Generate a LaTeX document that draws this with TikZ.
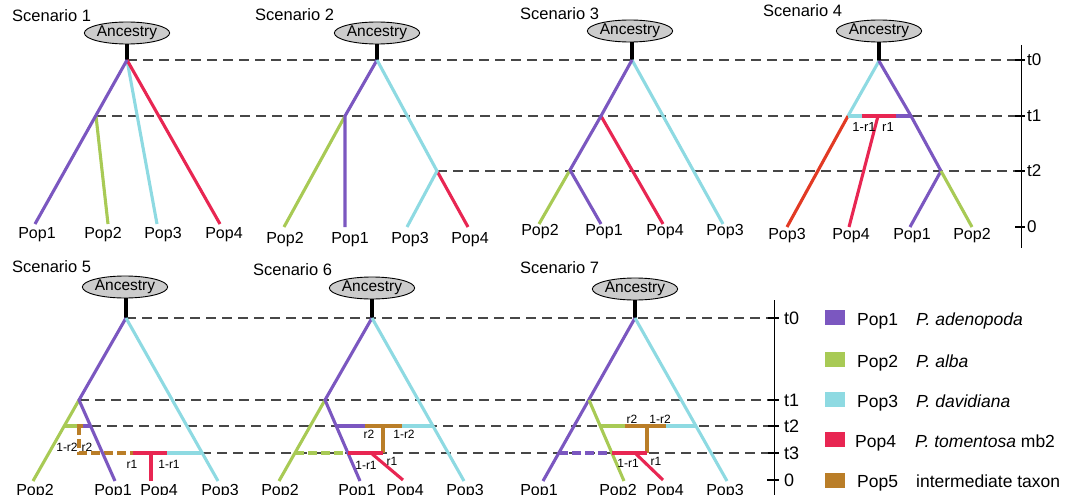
\documentclass[tikz,border=0pt]{standalone}
\usepackage{fontspec}
\setmainfont{Liberation Sans}
\usetikzlibrary{shapes.geometric}
\definecolor{cpur}{RGB}{123,87,192}
\definecolor{cgrn}{RGB}{168,202,85}
\definecolor{ccyn}{RGB}{142,218,226}
\definecolor{cred}{RGB}{232,38,82}
\definecolor{cora}{RGB}{226,58,36}
\definecolor{cbrn}{RGB}{186,126,40}
\begin{document}
\begin{tikzpicture}[x=1pt,y=-1pt,
  br/.style={line width=3.1pt},
  brd/.style={line width=3.1pt,dash pattern=on 9pt off 4pt},
  tl/.style={dash pattern=on 10pt off 6pt,line width=1.1pt,black!72},
  anc/.style={ellipse,draw=black,line width=0.9pt,fill=black!20,minimum width=63pt,minimum height=22pt,inner sep=0pt,font=\fontsize{15.5}{15.5}\selectfont},
  pop/.style={anchor=base,inner sep=0pt,font=\fontsize{16}{16}\selectfont},
  ttl/.style={anchor=base west,inner sep=0pt,font=\fontsize{16.5}{16.5}\selectfont},
  sm/.style={inner sep=0pt,font=\fontsize{12}{12}\selectfont},
  tmk/.style={line width=2.4pt},
  tlab/.style={anchor=west,inner sep=0pt,font=\fontsize{17}{17}\selectfont},
  leg/.style={anchor=base west,inner sep=0pt,font=\fontsize{17.5}{17.5}\selectfont},
  sq/.style={minimum width=20pt,minimum height=15pt,inner sep=0pt}
]
\useasboundingbox (0,0) rectangle (1085,495);

%================ TOP ROW =================
\coordinate (axT) at (1021,45);
\coordinate (axB) at (1021,248);
\draw[line width=0.9pt] (axT) -- (axB);
\foreach \y/\t in {60/t0,116/t1,171/t2,227/0}{
  \draw[tmk] (1015,\y) -- (1025,\y);
  \node[tlab] at (1027,\y) {\t};
}
\coordinate (e0) at (1015,60);
\coordinate (e1) at (1015,116);
\coordinate (e2) at (1015,171);

\coordinate (r1) at (127,60);
\coordinate (r2) at (377,60);
\coordinate (r3) at (632,60);
\coordinate (r4) at (879,61);

\coordinate (s1a) at (96,116);
\coordinate (s2m) at (437,171);
\draw[tl] (r1) -- (e0);
\draw[tl] (s1a) -- (e1);
\draw[tl] (s2m) -- (e2);

% Scenario 1
\node[ttl] (T1) at (12,22) {Scenario 1};
\node[anc] (A1) at (127,33) {Ancestry};
\draw[br,black] (r1) -- (r1 |- A1.south);
\coordinate (s1p1) at (35,224);
\coordinate (s1p2) at (108,224);
\coordinate (s1p3) at (157,224);
\coordinate (s1p4) at (220,224);
\draw[br,cgrn] (s1a) -- (s1p2);
\draw[br,ccyn] (r1) -- (s1p3);
\draw[br,cred] (r1) -- (s1p4);
\draw[br,cpur] (r1) -- (s1p1);
\node[pop] (L11) at (37,238) {Pop1};
\node[pop] (L12) at (103,238) {Pop2};
\node[pop] (L13) at (163,238) {Pop3};
\node[pop] (L14) at (224,238) {Pop4};

% Scenario 2
\node[ttl] (T2) at (255,21) {Scenario 2};
\node[anc] (A2) at (377,33) {Ancestry};
\draw[br,black] (r2) -- (r2 |- A2.south);
\coordinate (s2n) at (345,116);
\coordinate (s2p1) at (345,227);
\coordinate (s2p2) at (284,227);
\coordinate (s2p3) at (407,227);
\coordinate (s2p4) at (468,227);
\draw[br,cgrn] (s2n) -- (s2p2);
\draw[br,cpur] (r2) -- (s2n) -- (s2p1);
\draw[br,cred] (s2m) -- (s2p4);
\draw[br,ccyn] (r2) -- (s2m) -- (s2p3);
\node[pop] (L22) at (285,243) {Pop2};
\node[pop] (L21) at (350,243) {Pop1};
\node[pop] (L23) at (410,243) {Pop3};
\node[pop] (L24) at (470,243) {Pop4};

% Scenario 3
\node[ttl] (T3) at (520,20) {Scenario 3};
\node[anc] (A3) at (630,31) {Ancestry};
\draw[br,black] (r3) -- (r3 |- A3.south);
\coordinate (s3a) at (601,116);
\coordinate (s3b) at (570,170);
\coordinate (s3p1) at (601,224);
\coordinate (s3p2) at (539,224);
\coordinate (s3p4) at (663,224);
\coordinate (s3p3) at (723,224);
\draw[br,ccyn] (r3) -- (s3p3);
\draw[br,cred] (s3a) -- (s3p4);
\draw[br,cgrn] (s3b) -- (s3p2);
\draw[br,cpur] (r3) -- (s3a) -- (s3b) -- (s3p1);
\node[pop] (L32) at (540,235) {Pop2};
\node[pop] (L31) at (604,235) {Pop1};
\node[pop] (L34) at (665,235) {Pop4};
\node[pop] (L33) at (725,235) {Pop3};

% Scenario 4
\node[ttl] (T4) at (763,17) {Scenario 4};
\node[anc] (A4) at (879,31) {Ancestry};
\draw[br,black] (r4) -- (r4 |- A4.south);
\coordinate (s4c) at (848,116);
\coordinate (s4d) at (911,116);
\coordinate (s4e) at (941,171);
\coordinate (s4m) at (878,116);
\coordinate (s4h1) at (862,116);
\coordinate (s4h2) at (896,116);
\coordinate (s4p3) at (787,227);
\coordinate (s4p4) at (849,227);
\coordinate (s4p1) at (910,227);
\coordinate (s4p2) at (972,227);
\draw[br,ccyn] (r4) -- (s4c);
\draw[br,cpur] (r4) -- (s4d) -- (s4e) -- (s4p1);
\draw[br,cgrn] (s4e) -- (s4p2);
\draw[br,cora] (s4c) -- (s4p3);
\draw[br,cred] (s4m) -- (s4p4);
\draw[br,ccyn] (s4c) -- (s4h1);
\draw[br,cred] (s4h1) -- (s4h2);
\draw[br,cpur] (s4h2) -- (s4d);
\node[sm,font=\fontsize{13}{13}\selectfont] (l4a) at (864,127) {1-r1};
\node[sm,font=\fontsize{13}{13}\selectfont] (l4b) at (888,127) {r1};
\node[pop] (L43) at (787,239) {Pop3};
\node[pop] (L44) at (851,239) {Pop4};
\node[pop] (L41) at (912,239) {Pop1};
\node[pop] (L42) at (972,239) {Pop2};

%================ BOTTOM ROW =================
\coordinate (bxT) at (774,300);
\coordinate (bxB) at (774,495);
\draw[line width=0.9pt] (bxT) -- (bxB);
\foreach \y/\t in {318/t0,400/t1,426/t2,453/t3,480/0}{
  \draw[tmk] (767,\y) -- (779,\y);
  \node[tlab,font=\fontsize{18}{18}\selectfont] at (784,\y) {\t};
}
\coordinate (f0) at (768,318);
\coordinate (f1) at (768,400);
\coordinate (f2) at (768,426);
\coordinate (f3) at (768,453);

\coordinate (r5) at (126,318);
\coordinate (r6) at (372,318);
\coordinate (r7) at (635,318);
\coordinate (a5) at (79,400);
\coordinate (q5) at (91,426);
\coordinate (c5) at (201,453);
\draw[tl] (r5) -- (f0);
\draw[tl] (a5) -- (f1);
\draw[tl] (q5) -- (f2);
\draw[tl] (c5) -- (f3);

% Scenario 5
\node[ttl] (T5) at (12,272) {Scenario 5};
\node[anc] (A5) at (125,287) {Ancestry};
\draw[br,black] (r5) -- (r5 |- A5.south);
\coordinate (s5b1) at (79,426);
\coordinate (s5b2) at (79,453);
\coordinate (s5b3) at (133,453);
\coordinate (s5b4) at (167,453);
\coordinate (s5v) at (151,453);
\coordinate (s5g1) at (64,426);
\coordinate (s5g2) at (77,426);
\coordinate (s5u) at (83,426);
\coordinate (s5p1) at (115,481);
\coordinate (s5p2) at (33,481);
\coordinate (s5p3) at (218,481);
\coordinate (s5p4) at (151,481);
\draw[brd,cbrn] (s5b1) -- (s5b2) -- (s5b3);
\draw[br,cgrn] (a5) -- (s5p2);
\draw[br,cpur] (r5) -- (a5) -- (s5p1);
\draw[br,ccyn] (r5) -- (s5p3);
\draw[br,cgrn] (s5g1) -- (s5g2);
\draw[br,cbrn] (s5g2) -- (s5u);
\draw[br,cpur] (s5u) -- (q5);
\draw[br,cred] (s5b3) -- (s5b4);
\draw[br,ccyn] (s5b4) -- (c5);
\draw[br,cred] (s5v) -- (s5p4);
\node[sm] (l5a) at (67,447) {1-r2};
\node[sm] (l5b) at (87,447) {r2};
\node[sm] (l5c) at (132,464) {r1};
\node[sm] (l5d) at (169,464) {1-r1};
\node[pop] (L52) at (35,495) {Pop2};
\node[pop] (L51) at (113,495) {Pop1};
\node[pop] (L54) at (159,495) {Pop4};
\node[pop] (L53) at (220,495) {Pop3};

% Scenario 6
\node[ttl] (T6) at (253,275) {Scenario 6};
\node[anc] (A6) at (372,288) {Ancestry};
\draw[br,black] (r6) -- (r6 |- A6.south);
\coordinate (a6) at (325,400);
\coordinate (s6p1) at (360,481);
\coordinate (s6p2) at (279,481);
\coordinate (s6p3) at (464,481);
\coordinate (s6h1) at (336,426);
\coordinate (s6h2) at (365,426);
\coordinate (s6h3) at (402,426);
\coordinate (s6h4) at (433,426);
\coordinate (s6v1) at (383,426);
\coordinate (s6v2) at (383,453);
\coordinate (s6g1) at (295,453);
\coordinate (s6g2) at (348,453);
\coordinate (s6r) at (371,453);
\coordinate (s6p4) at (403,480);
\draw[brd,cgrn] (s6g1) -- (s6g2);
\draw[br,cgrn] (a6) -- (s6p2);
\draw[br,cpur] (r6) -- (a6) -- (s6p1);
\draw[br,ccyn] (r6) -- (s6p3);
\draw[br,cpur] (s6h1) -- (s6h2);
\draw[br,cbrn] (s6h2) -- (s6h3);
\draw[br,ccyn] (s6h3) -- (s6h4);
\draw[br,cbrn] (s6v1) -- (s6v2);
\draw[br,cred] (s6g2) -- (s6v2);
\draw[br,cred] (s6r) -- (s6p4);
\node[sm] (l6a) at (369,434) {r2};
\node[sm] (l6b) at (404,434) {1-r2};
\node[sm] (l6c) at (366,465) {1-r1};
\node[sm] (l6d) at (392,461) {r1};
\node[pop] (L62) at (280,495) {Pop2};
\node[pop] (L61) at (357,495) {Pop1};
\node[pop] (L64) at (405,495) {Pop4};
\node[pop] (L63) at (465,495) {Pop3};

% Scenario 7
\node[ttl] (T7) at (520,273) {Scenario 7};
\node[anc] (A7) at (635,289) {Ancestry};
\draw[br,black] (r7) -- (r7 |- A7.south);
\coordinate (a7) at (589,400);
\coordinate (s7p1) at (543,481);
\coordinate (s7p2) at (624,481);
\coordinate (s7p3) at (727,481);
\coordinate (s7h1) at (600,426);
\coordinate (s7h2) at (625,426);
\coordinate (s7h3) at (666,426);
\coordinate (s7h4) at (696,426);
\coordinate (s7v1) at (647,426);
\coordinate (s7v2) at (647,453);
\coordinate (s7u1) at (559,453);
\coordinate (s7u2) at (612,453);
\coordinate (s7r) at (635,453);
\coordinate (s7p4) at (663,480);
\draw[brd,cpur] (s7u1) -- (s7u2);
\draw[br,cpur] (r7) -- (s7p1);
\draw[br,cgrn] (a7) -- (s7p2);
\draw[br,ccyn] (r7) -- (s7p3);
\draw[br,cgrn] (s7h1) -- (s7h2);
\draw[br,cbrn] (s7h2) -- (s7h3);
\draw[br,ccyn] (s7h3) -- (s7h4);
\draw[br,cbrn] (s7v1) -- (s7v2);
\draw[br,cred] (s7u2) -- (s7v2);
\draw[br,cred] (s7r) -- (s7p4);
\node[sm] (l7a) at (632,419) {r2};
\node[sm] (l7b) at (660,419) {1-r2};
\node[sm] (l7c) at (628,463) {1-r1};
\node[sm] (l7d) at (656,461) {r1};
\node[pop] (L71) at (539,495) {Pop1};
\node[pop] (L72) at (618,495) {Pop2};
\node[pop] (L74) at (665,495) {Pop4};
\node[pop] (L73) at (725,495) {Pop3};

%================ LEGEND =================
\node[sq,fill=cpur] (K1) at (835,317.5) {};
\node[sq,fill=cgrn] (K2) at (835,359.5) {};
\node[sq,fill=ccyn] (K3) at (835,399.5) {};
\node[sq,fill=cred] (K4) at (835,439.5) {};
\node[sq,fill=cbrn] (K5) at (835,480) {};
\node[leg] (N1) at (857,325) {Pop1};
\node[leg] (N2) at (857,367) {Pop2};
\node[leg] (N3) at (857,407) {Pop3};
\node[leg] (N4) at (855,447) {Pop4};
\node[leg] (N5) at (857,487) {Pop5};
\node[leg] (S1) at (916,325) {\itshape P. adenopoda};
\node[leg] (S2) at (916,367) {\itshape P. alba};
\node[leg] (S3) at (916,407) {\itshape P. davidiana};
\node[leg] (S4) at (915,447) {\textit{P. tomentosa} mb2};
\node[leg] (S5) at (916,487) {intermediate taxon};
\end{tikzpicture}
\end{document}
